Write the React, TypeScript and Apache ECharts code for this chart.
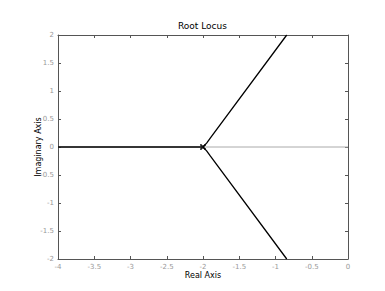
import React, { useEffect, useRef } from "react";
import * as echarts from "echarts";

const xTicks = [-4, -3.5, -3, -2.5, -2, -1.5, -1, -0.5, 0];
const yTicks = [-2, -1.5, -1, -0.5, 0, 0.5, 1, 1.5, 2];
const realBranch: [number, number][] = [[-4, 0], [-2, 0]];
const upperBranch: [number, number][] = [[-2, 0], [-1.95, 0.07], [-1.9, 0.16], [-0.845, 2]];
const lowerBranch: [number, number][] = [[-2, 0], [-1.95, -0.07], [-1.9, -0.16], [-0.845, -2]];
const zeroLine: [number, number][] = [[-4, 0], [0, 0]];
const poles: [number, number][] = [[-2, 0], [-2, 0], [-2, 0]];

const fmt = (v: number) => String(v);

export default function App() {
  const ref = useRef<HTMLDivElement>(null);
  useEffect(() => {
    const chart = echarts.init(ref.current!, null, { renderer: "svg" });
    const axisLine = { show: true, onZero: false, lineStyle: { color: "#555", width: 1 } };
    const tick = { show: true, inside: true, length: 3, lineStyle: { color: "#555" } };
    const lbl = { color: "#999", fontSize: 7, fontFamily: "DejaVu Sans", formatter: fmt };
    chart.setOption({
      animation: false,
      backgroundColor: "#fff",
      title: {
        text: "Root Locus",
        left: 173,
        top: 16,
        textStyle: { fontSize: 9, fontWeight: "normal", color: "#000", fontFamily: "DejaVu Sans" },
      },
      grid: { left: 58, right: 37, top: 35, bottom: 32, containLabel: false },
      xAxis: [
        {
          type: "value", min: -4, max: 0, interval: 0.5, position: "bottom",
          axisLine, axisTick: tick, axisLabel: { ...lbl, margin: 4 }, splitLine: { show: false },
          name: "Real Axis", nameLocation: "middle", nameGap: 12, nameMoveOverlap: false,
          nameTextStyle: { fontSize: 8, color: "#000", fontFamily: "DejaVu Sans" },
        },
        {
          type: "value", min: -4, max: 0, interval: 0.5, position: "top",
          axisLine, axisTick: tick, axisLabel: { show: false }, splitLine: { show: false },
        },
      ],
      yAxis: [
        {
          type: "value", min: -2, max: 2, interval: 0.5, position: "left",
          axisLine, axisTick: tick, axisLabel: { ...lbl, margin: 4 }, splitLine: { show: false },
          name: "Imaginary Axis", nameLocation: "middle", nameGap: 16, nameMoveOverlap: false,
          nameTextStyle: { fontSize: 8, color: "#000", fontFamily: "DejaVu Sans" },
        },
        {
          type: "value", min: -2, max: 2, interval: 0.5, position: "right",
          axisLine, axisTick: tick, axisLabel: { show: false }, splitLine: { show: false },
        },
      ],
      series: [
        { type: "line", data: zeroLine, symbol: "none", lineStyle: { color: "#aaa", width: 1 }, silent: true },
        { type: "line", data: realBranch, symbol: "none", lineStyle: { color: "#000", width: 1.3 } },
        { type: "line", data: upperBranch, symbol: "none", lineStyle: { color: "#000", width: 1.3 } },
        { type: "line", data: lowerBranch, symbol: "none", lineStyle: { color: "#000", width: 1.3 } },
        {
          type: "scatter", data: poles,
          symbol: "path://M0,0L10,10M10,0L0,10",
          symbolSize: 5,
          itemStyle: { color: "none", borderColor: "#222", borderWidth: 1.3 },
        },
      ],
    });
    return () => chart.dispose();
  }, []);
  return <div ref={ref} style={{ width: 385, height: 291, margin: -8 }} />;
}
